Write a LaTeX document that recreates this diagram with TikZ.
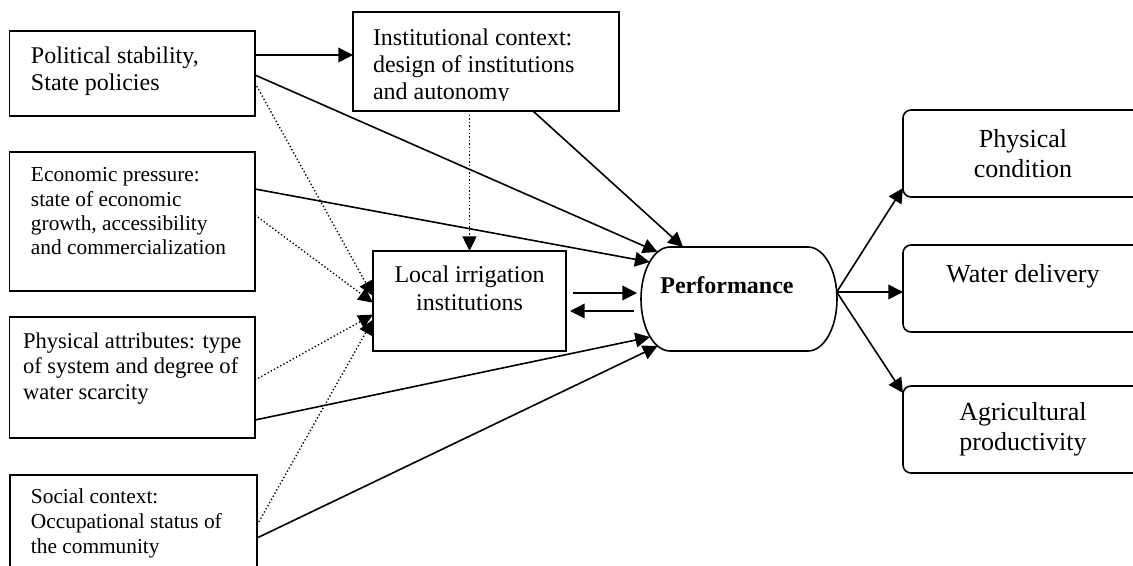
\documentclass[tikz,border=0pt]{standalone}
\usepackage{fontspec}
\setmainfont{Liberation Serif}
\usetikzlibrary{arrows.meta,calc}
\begin{document}
\begin{tikzpicture}[x=0.75pt,y=-0.75pt,
  box/.style={draw,line width=1.2pt,rectangle,anchor=north west,inner sep=0,outer sep=0},
  rbox/.style={draw,line width=1.2pt,rectangle,rounded corners=6pt,anchor=north west,
    minimum width=180pt,minimum height=65.25pt,align=center,
    font=\fontsize{19.5}{22.5}\selectfont,inner sep=0,outer sep=0},
  txt/.style={anchor=north west,inner sep=0,outer sep=0,align=left},
  arr/.style={line width=1.2pt,-{Triangle[length=11pt,width=11pt]}},
  dotarr/.style={line width=1pt,dash pattern=on 1pt off 1.7pt,-{Triangle[length=11pt,width=10.5pt]}},
]
\useasboundingbox (0,0) rectangle (1133,565);
\fill[white] (0,0) rectangle (1133,565);
\clip (0,0) rectangle (1133,565);

% left boxes
\node[box,minimum width=0.75*245.5pt,minimum height=0.75*85pt] (pol) at (9.5,31) {};
\node[box,minimum width=0.75*245.5pt,minimum height=0.75*139pt] (econ) at (9.5,152) {};
\node[box,minimum width=0.75*245.5pt,minimum height=0.75*121pt] (phys) at (9.5,317) {};
\node[box,minimum width=0.75*247pt,minimum height=0.75*130pt] (soc) at (10,475) {};
\node[box,minimum width=0.75*266pt,minimum height=0.75*99pt] (inst) at (353,12) {};
\node[box,minimum width=0.75*193pt,minimum height=0.75*100pt] (loc) at (373,251) {};

\node[txt,font=\fontsize{18}{20.7}\selectfont] (poltxt) at (31,46.5) {Political stability,\\State policies};
\node[txt,font=\fontsize{16}{18.3}\selectfont] (econtxt) at (31,167.5) {Economic pressure:\\state of economic\\growth, accessibility\\and commercialization};
\node[txt,font=\fontsize{16.9}{19.1}\selectfont] (phystxt) at (23,332.5) {Physical attributes: type\\of system and degree of\\water scarcity};
\node[txt,font=\fontsize{16}{18.75}\selectfont] (soctxt) at (31,488.5) {Social context:\\Occupational status of\\the community};
\begin{scope}
\clip (353,12) rectangle (619,100.5);
\node[txt,font=\fontsize{18}{20.1}\selectfont] (insttxt) at (373,29) {Institutional context:\\design of institutions\\and autonomy};
\end{scope}
\node[anchor=north,inner sep=0,outer sep=0,align=center,font=\fontsize{18}{21}\selectfont] (loctxt) at (469.5,265.5) {Local irrigation\\institutions};

% performance
\node[rectangle,minimum width=147pt,minimum height=78pt,inner sep=0,outer sep=0,align=center,
  font=\bfseries\fontsize{18}{20.7}\selectfont] (perf) at (739,299)
  {\mbox{Performance\hspace{18pt}}\\\mbox{}};
\draw[line width=1.2pt] ([shift={(29,0)}]perf.north west) -- ([shift={(-29,0)}]perf.north east)
  arc[start angle=-90,end angle=90,x radius=29,y radius=52]
  -- ([shift={(29,0)}]perf.south west)
  arc[start angle=90,end angle=270,x radius=29,y radius=52] -- cycle;

% right boxes
\node[rbox] (pc) at (903,110) {Physical\\condition};
\node[rbox] (wd) at (903,245) {Water delivery\\\mbox{}};
\node[rbox] (ap) at (903,386) {Agricultural\\productivity};

% connectors
\coordinate (p1) at ([shift={(0,-18.5)}]pol.east);
\draw[arr] (p1) -- (p1 -| inst.west);
\draw[arr] ([shift={(0,1.5)}]pol.east) -- ([shift={(-81.4,-47)}]perf.center);
\draw[dotarr] ([shift={(0,9.5)}]pol.east) -- (loc.177);
\draw[arr] ([shift={(0,-32.5)}]econ.east) -- ([shift={(-89.4,-37)}]perf.center);
\draw[dotarr] ([shift={(0,-6.5)}]econ.east) -- (loc.181);
\draw[dotarr] ([shift={(0,2.5)}]phys.east) -- (loc.188);
\draw[arr] ([shift={(0,42.5)}]phys.east) -- ([shift={(-89,38)}]perf.center);
\draw[dotarr] ([shift={(0,50)}]soc.north east) -- (loc.191);
\draw[arr] ([shift={(0,63)}]soc.north east) -- ([shift={(-81.4,47)}]perf.center);
\draw[dotarr] (inst.south -| loc.north) -- (loc.north);
\draw[arr] ([shift={(47,0)}]inst.south) -- ([shift={(-56,-52)}]perf.center);

\draw[arr] ([shift={(7,-8)}]loc.east) -- ([shift={(-4,-6)}]perf.west);
\draw[arr] ([shift={(-7,12)}]perf.west) -- ([shift={(4,10)}]loc.east);

\coordinate (pe) at ([shift={(97.7,-7)}]perf.center);
\draw[arr] (pe) -- ([shift={(0,-9)}]pc.south west);
\draw[arr] (pe) -- ([shift={(0,3.5)}]wd.west);
\draw[arr] (pe) -- ([shift={(0,7)}]ap.north west);
\end{tikzpicture}
\end{document}
